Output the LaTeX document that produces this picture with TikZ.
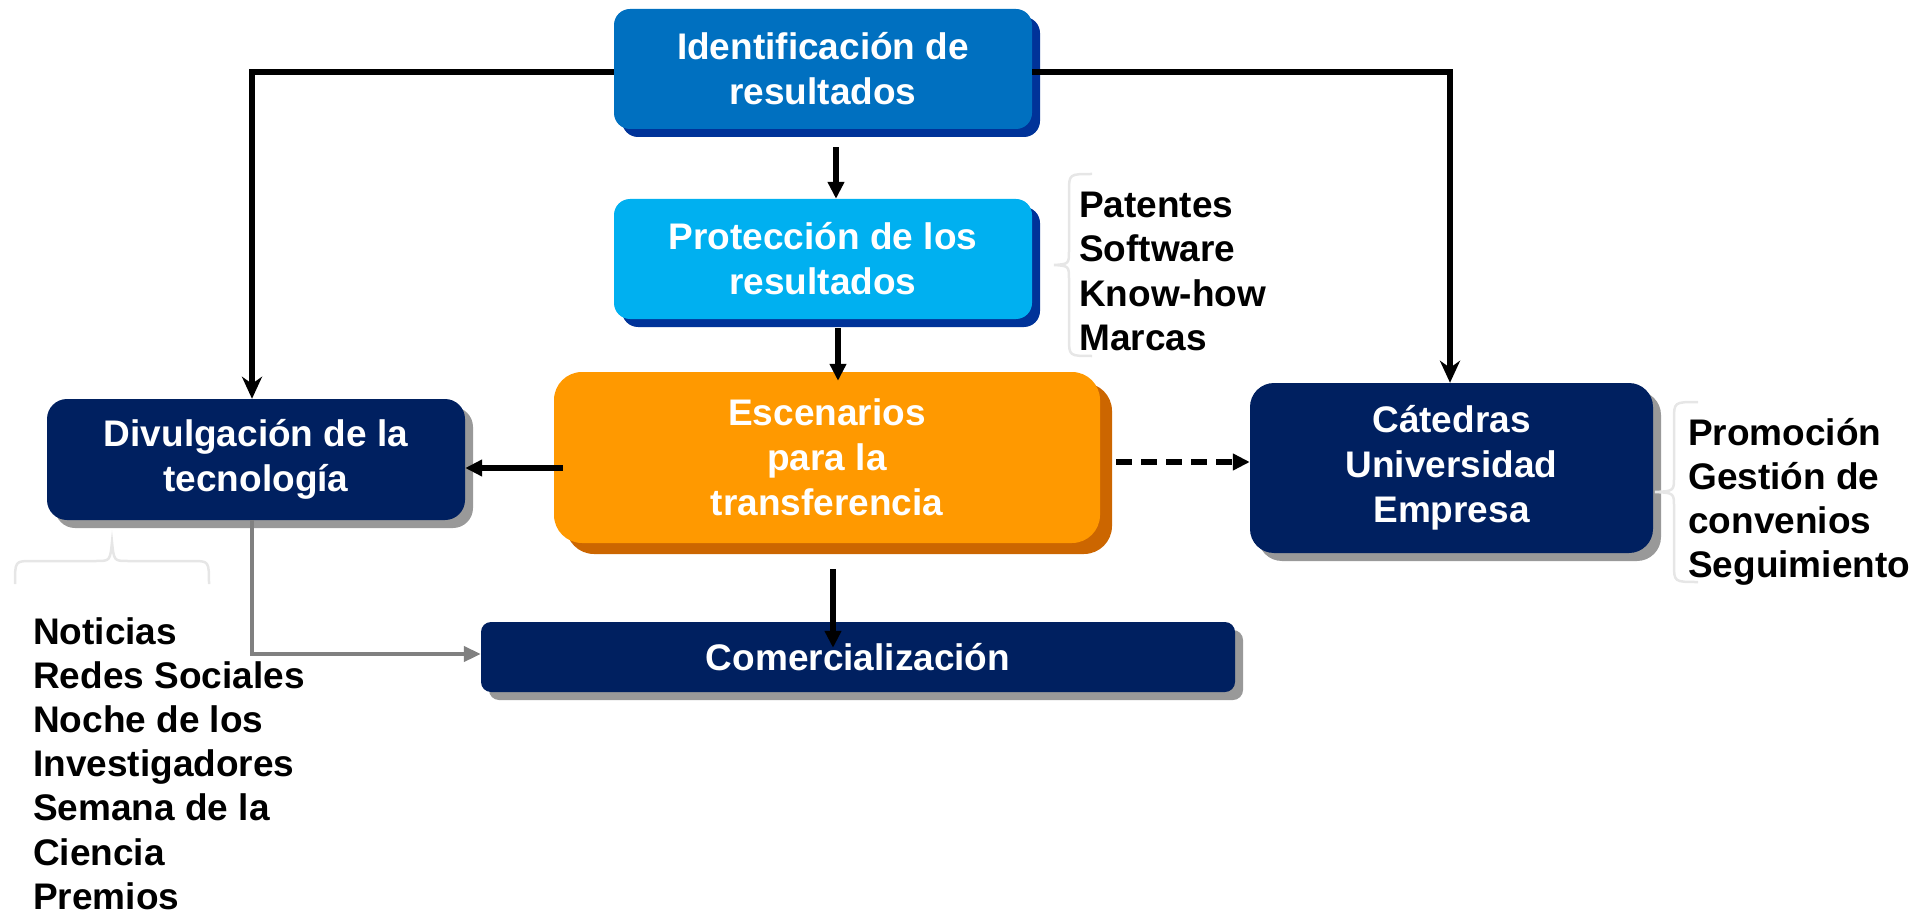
\documentclass[tikz,border=0pt]{standalone}
\usepackage{fontspec}
\setmainfont{Liberation Sans}
\usetikzlibrary{arrows.meta,shadows,calc}
\definecolor{topblue}{HTML}{0070C0}
\definecolor{lightblue}{HTML}{00B0F0}
\definecolor{darkshadow}{HTML}{003399}
\definecolor{orangefill}{HTML}{FF9900}
\definecolor{orangeshadow}{HTML}{CC6600}
\definecolor{navy}{HTML}{002060}
\definecolor{grayshadow}{HTML}{999999}
\definecolor{linegray}{HTML}{808080}
\definecolor{bracegray}{HTML}{E6E6E6}
\begin{document}
\begin{tikzpicture}[x=1pt,y=-1pt,
  box/.style={text=white, font=\fontsize{37}{45}\selectfont\bfseries, align=center, inner sep=0pt, draw=none},
  blueshadow/.style={general shadow={shadow xshift=8pt, shadow yshift=-8pt, fill=darkshadow}},
  greyshadow/.style={general shadow={shadow xshift=8pt, shadow yshift=-8pt, fill=grayshadow}},
  orangeshadowstyle/.style={general shadow={shadow xshift=12pt, shadow yshift=-11pt, fill=orangeshadow}},
  listtext/.style={font=\fontsize{37}{44.2}\selectfont\bfseries, align=left, inner sep=0pt, anchor=north west},
  arr/.style={line width=5.5pt, -{Triangle[length=17pt,width=16pt]}},
  longarr/.style={line width=5.5pt, -{Stealth[length=22pt,width=20pt,inset=7pt]}},
  grayarr/.style={draw=linegray, line width=4.5pt, -{Triangle[length=17pt,width=15pt]}, color=linegray},
  bracestyle/.style={draw=bracegray, line width=2.5pt}
]
\useasboundingbox (0,0) rectangle (1927,917);

% boxes
\node[box, fill=topblue, blueshadow, rounded corners=16pt, minimum width=418pt, minimum height=120pt] (ident) at (823,69) {Identificación de\\resultados};
\node[box, fill=lightblue, blueshadow, rounded corners=16pt, minimum width=418pt, minimum height=120pt] (prot) at (823,259) {Protección de los\\resultados};
\node[box, fill=orangefill, orangeshadowstyle, rounded corners=28pt, minimum width=546pt, minimum height=171pt] (esc) at (827,457.5) {Escenarios\\para la\\transferencia};
\node[box, fill=navy, greyshadow, rounded corners=20pt, minimum width=418pt, minimum height=121pt] (div) at (256,459.5) {Divulgación de la\\tecnología};
\node[box, fill=navy, greyshadow, rounded corners=24pt, minimum width=403pt, minimum height=170pt] (cat) at (1451.5,468) {Cátedras\\Universidad\\Empresa};
\node[box, fill=navy, greyshadow, rounded corners=10pt, minimum width=754pt, minimum height=70pt] (com) at (858,657) {Comercialización};

% connectors
\draw[arr] ([xshift=13pt,yshift=-18pt]ident.south) -- ([xshift=13pt]prot.north);
\draw[arr] ([xshift=15pt,yshift=-9pt]prot.south) -- ([xshift=15pt,yshift=-9pt]prot.south |- esc.north);
\draw[arr] ([xshift=6pt,yshift=-26pt]esc.south) -- ([xshift=6pt,yshift=-26pt]esc.south |- com.north);
\draw[arr] ([xshift=9pt,yshift=-10.5pt]esc.west) -- ([yshift=-8.5pt]div.east);
\draw[arr, dash pattern=on 16pt off 9pt] ([xshift=16pt,yshift=-4.5pt]esc.east) -- ([yshift=6pt]cat.west);
\draw[longarr] ([yshift=-3pt]ident.west) -| ([xshift=-4pt]div.north);
\draw[longarr] ([yshift=-3pt]ident.east) -| ([xshift=-1.5pt]cat.north);
\draw[grayarr] ([xshift=-4pt]div.south) |- ([yshift=3pt]com.west);

% braces
\draw[bracestyle] (1092,174) .. controls (1069,174) and (1069,174) .. (1069,192) -- (1069,250) .. controls (1069,264) .. (1054,265) .. controls (1069,266) .. (1069,280) -- (1069,338) .. controls (1069,356) and (1069,356) .. (1092,356);
\draw[bracestyle] (1698,402) .. controls (1674,402) and (1674,402) .. (1674,420) -- (1674,477) .. controls (1674,491) .. (1655,492) .. controls (1674,493) .. (1674,507) -- (1674,564) .. controls (1674,582) and (1674,582) .. (1698,582);
\draw[bracestyle] (15,584) .. controls (15,561) and (15,561) .. (32,561) -- (96,561) .. controls (110,561) .. (112,542) .. controls (114,561) .. (128,561) -- (192,561) .. controls (209,561) and (209,561) .. (209,584);

% side texts
\node[listtext] (pat) at (1079,192) {Patentes\\Software\\Know-how\\Marcas};
\node[listtext] (prom) at (1688,418) {Promoción\\Gestión de\\convenios\\Seguimiento};
\node[listtext] (not) at (33,617) {Noticias\\Redes Sociales\\Noche de los\\Investigadores\\Semana de la\\Ciencia\\Premios};
\end{tikzpicture}
\end{document}
